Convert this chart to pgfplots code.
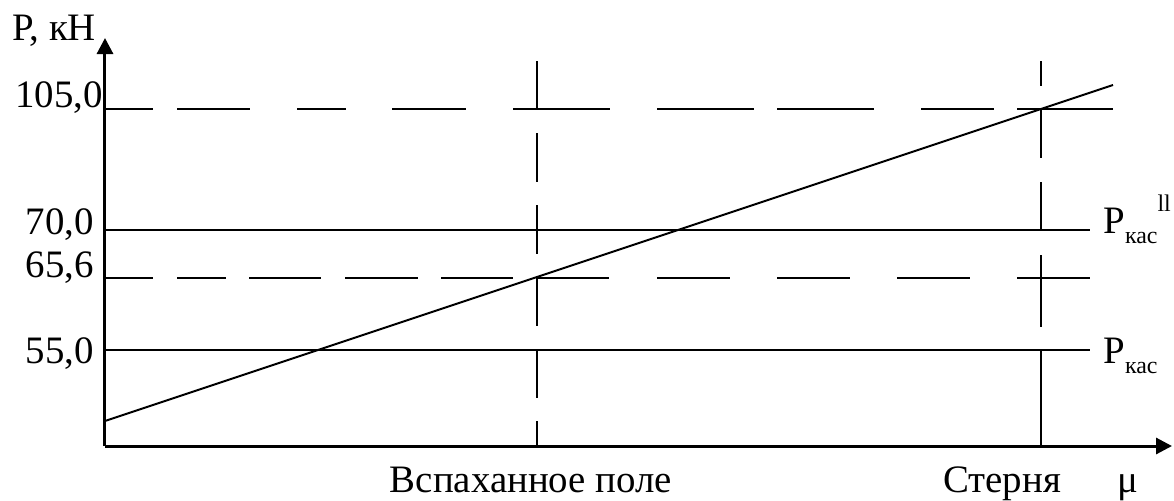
\documentclass[border=0pt]{standalone}
\usepackage{fontspec}
\setmainfont{Liberation Serif}
\usepackage{pgfplots}
\pgfplotsset{compat=1.18}
\usetikzlibrary{arrows.meta}

% schematic chart: y positions follow the drawing, not a linear kN scale
\newcommand{\Pk}{P\raisebox{-0.28em}{\fontsize{12}{12}\selectfont кас}}

\begin{document}
\begin{tikzpicture}
\fontsize{19.5}{23}\selectfont
\begin{axis}[
    x=0.5bp, y=0.5bp,
    xmin=0, xmax=1067, ymin=0, ymax=408,
    axis lines=left,
    axis line style={line width=1.5bp, -{Triangle[length=8bp,width=8bp]}},
    ticks=none,
    clip=false,
]
% bounding box of the whole picture
\path (axis cs:-105,-51) rectangle (axis cs:1069,446);

% horizontal levels (hand-drawn, uneven dashes)
\addplot[black, line width=1bp, dash pattern=on 24bp off 12bp on 36.5bp off 23.5bp on 24.5bp off 23bp on 37bp off 23.5bp on 48.5bp off 23.5bp on 48.5bp off 11.5bp on 48.5bp off 23.5bp on 36.5bp off 11.5bp on 48bp off 20bp]
    coordinates {(0,337) (1008,337)};
\addplot[black, line width=1bp] coordinates {(0,216) (985,216)};
\addplot[black, line width=1bp, dash pattern=on 24bp off 12bp on 24.5bp off 11.5bp on 36bp off 12bp on 36.5bp off 11.5bp on 36bp off 12bp on 36bp off 24bp on 36.5bp off 23.5bp on 36.5bp off 23.5bp on 36.5bp off 23.5bp on 36.5bp off 10bp]
    coordinates {(0,168) (985,168)};
\addplot[black, line width=1bp] coordinates {(0,96) (985,96)};

% verticals (drawn from the top down)
\addplot[black, line width=1bp, dash pattern=on 24.5bp off 11.5bp]
    coordinates {(432,385) (432,0)};
\addplot[black, line width=1bp, dash pattern=on 12.5bp off 12bp on 24bp off 12bp on 24.5bp off 12bp on 36bp off 11.5bp on 48bp off 20bp]
    coordinates {(936,385) (936,0)};

% traction force line
\addplot[black, line width=1bp] coordinates {(0,25) (1008,361)};

% labels
\node[anchor=base west, inner sep=0] at (axis cs:-93,406) {P, кН};
\node[anchor=base east, inner sep=0] at (axis cs:-2,339) {105,0};
\node[anchor=base east, inner sep=0] at (axis cs:-11,212) {70,0};
\node[anchor=base east, inner sep=0] at (axis cs:-11,169) {65,6};
\node[anchor=base east, inner sep=0] at (axis cs:-11,83) {55,0};

\node[anchor=base west, inner sep=0] at (axis cs:998,213)
    {\Pk\raisebox{0.55em}{\fontsize{12}{12}\selectfont ll}};
\node[anchor=base west, inner sep=0] at (axis cs:998,83) {\Pk};

\node[anchor=base, inner sep=0] at (axis cs:426,-46) {Вспаханное поле};
\node[anchor=base, inner sep=0] at (axis cs:897,-46) {Стерня};
\node[anchor=base, inner sep=0] at (axis cs:1023,-46) {μ};
\end{axis}
\end{tikzpicture}
\end{document}
